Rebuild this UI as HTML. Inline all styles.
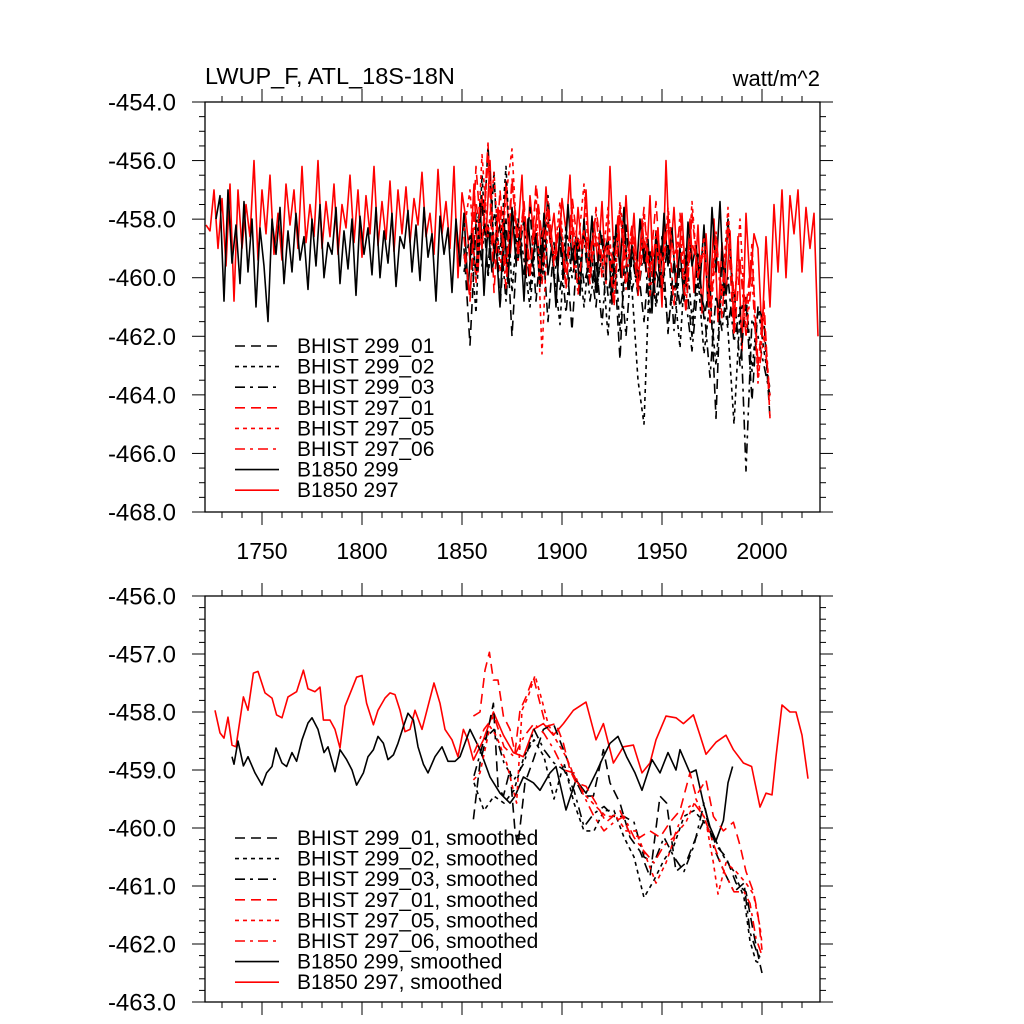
<!DOCTYPE html>
<html><head><meta charset="utf-8"><style>
html,body{margin:0;padding:0;background:#fff;}
svg{display:block;font-family:"Liberation Sans",Arial,sans-serif;}
</style></head><body>
<svg id="chart" width="1024" height="1024" viewBox="0 0 1024 1024"></svg>
<script>
// ===== data =====
const rawB297Start = 1722, rawB297Step = 2;
const rawB297 = [-458.2,-458.4,-457.0,-459.0,-457.3,-459.6,-456.8,-460.8,-457.0,-459.0,
-457.5,-458.6,-456.0,-459.4,-457.0,-458.5,-456.5,-459.2,-457.8,-459.4,
-456.8,-458.2,-457.0,-459.0,-456.2,-458.8,-457.5,-458.6,-456.0,-459.0,
-457.4,-458.6,-456.8,-459.2,-457.5,-458.3,-456.5,-458.8,-457.0,-459.3,
-457.2,-458.5,-456.2,-458.9,-457.4,-458.7,-456.7,-459.1,-457.0,-458.5,
-456.9,-458.8,-457.3,-458.2,-456.4,-458.6,-457.8,-459.2,-456.3,-458.5,
-457.4,-459.0,-456.2,-460.0,-457.1,-458.0,-459.4,-456.8,-459.8,-457.2,
-458.6,-456.0,-459.5,-457.6,-458.9,-456.7,-459.3,-457.9,-458.4,-456.5,
-460.0,-457.2,-458.7,-457.5,-459.6,-456.9,-458.8,-457.8,-459.6,-457.3,
-458.4,-456.5,-459.8,-457.6,-459.1,-457.0,-459.7,-458.1,-459.5,-457.4,
-460.2,-456.2,-459.4,-457.9,-460.0,-457.2,-459.6,-457.8,-460.4,-458.0,
-459.8,-457.2,-460.6,-458.3,-461.0,-456.0,-459.5,-457.6,-459.9,-457.8,
-460.3,-458.0,-460.5,-458.2,-461.2,-458.5,-460.8,-458.0,-461.5,-458.8,
-460.6,-458.4,-461.8,-458.6,-462.5,-457.8,-460.2,-458.5,-459.0,-462.0,
-458.6,-461.0,-457.5,-459.8,-457.0,-460.0,-457.2,-458.5,-457.0,-459.8,
-457.6,-459.0,-457.8,-462.0];
const rawB299Start = 1727, rawB299Step = 2;
const rawB299 = [-458.0,-457.2,-460.8,-457.0,-459.5,-458.2,-460.2,-457.4,-459.8,-458.0,
-461.0,-458.3,-459.6,-461.5,-458.0,-459.2,-457.6,-460.2,-458.4,-459.8,
-457.8,-459.4,-458.6,-460.4,-458.0,-459.6,-457.5,-460.0,-458.8,-459.2,
-457.6,-460.2,-458.4,-459.7,-458.0,-460.6,-457.9,-459.2,-458.3,-459.9,
-457.6,-460.0,-458.4,-459.5,-457.8,-460.3,-458.6,-459.0,-457.7,-459.8,
-458.2,-460.1,-457.6,-459.3,-458.5,-460.8,-457.9,-459.2,-458.3,-460.5,
-458.0,-459.6,-457.8,-460.4,-458.5,-459.9,-457.4,-460.6,-458.2,-459.8,
-458.8,-461.0,-458.0,-460.2,-457.6,-459.5,-458.4,-460.8,-458.0,-459.6,
-458.5,-460.3,-457.8,-459.9,-458.9,-461.0,-458.2,-460.0,-457.5,-459.4,
-458.6,-460.6,-458.0,-459.8,-457.9,-460.5,-458.4,-459.2,-458.6,-460.9,
-458.2,-459.7,-457.6,-460.4,-458.9,-460.0,-458.0,-459.5,-458.7,-461.2,
-458.4,-460.2,-457.8,-459.6,-458.3,-460.4,-459.0,-460.8,-458.1,-459.6,
-458.9,-460.2,-458.2,-461.0,-457.6,-459.8,-457.4,-460.6,-458.0,-460.2];
const rawHistStart = 1851, rawHistStep = 3;
const raw299_01 = [-459.0,-462.3,-458.2,-457.5,-459.8,-456.4,-461.0,-458.0,-462.0,-458.5,
-460.0,-457.6,-460.8,-458.4,-461.5,-458.8,-460.4,-459.0,-461.8,-458.6,
-460.2,-459.4,-461.0,-458.5,-460.6,-459.2,-462.8,-458.2,-460.4,-459.6,
-461.5,-459.0,-460.8,-458.6,-461.9,-459.4,-461.0,-460.0,-462.0,-459.2,
-461.4,-460.2,-464.8,-459.0,-461.6,-460.4,-463.0,-460.8,-464.2,-461.0,-461.5,-464.8];
const raw299_02 = [-459.8,-458.5,-461.2,-456.5,-460.0,-457.8,-459.2,-456.2,-460.5,-458.0,
-459.4,-461.0,-458.6,-460.2,-458.0,-459.8,-461.6,-458.2,-460.0,-459.0,
-461.0,-458.8,-460.5,-459.2,-462.0,-458.6,-461.8,-459.6,-460.4,-463.5,
-465.0,-459.4,-461.0,-459.8,-461.6,-460.2,-462.4,-459.0,-461.4,-460.0,
-462.6,-460.8,-463.0,-460.2,-461.8,-465.0,-461.2,-460.6,-463.2,-461.0,-462.5,-463.8];
const raw299_03 = [-459.2,-460.6,-457.8,-459.6,-455.5,-459.0,-458.2,-460.8,-457.6,-459.4,
-458.0,-460.4,-458.4,-459.8,-457.2,-460.0,-458.8,-461.2,-459.0,-460.2,
-458.6,-460.8,-459.4,-461.6,-458.8,-460.2,-459.6,-462.0,-459.2,-460.6,
-459.0,-461.2,-459.8,-460.4,-458.8,-461.8,-459.6,-460.8,-462.5,-460.2,
-461.0,-463.4,-460.6,-461.8,-460.0,-462.2,-461.0,-466.6,-461.4,-462.0,-463.0,-464.0];
const raw297_01 = [-458.6,-460.8,-456.2,-459.0,-455.4,-460.5,-457.0,-459.8,-456.6,-459.2,
-457.4,-460.0,-456.8,-458.6,-457.6,-459.6,-458.0,-460.4,-457.2,-459.0,
-458.4,-460.2,-457.6,-459.4,-458.8,-461.0,-457.8,-459.6,-458.2,-460.6,
-458.6,-459.8,-457.4,-460.4,-458.0,-459.2,-458.8,-461.2,-457.8,-460.0,
-459.0,-461.4,-458.6,-460.6,-458.4,-462.0,-459.6,-461.0,-459.2,-463.0,-460.8,-464.8];
const raw297_05 = [-458.4,-457.0,-460.2,-455.8,-458.6,-456.4,-459.8,-457.2,-455.6,-459.4,
-457.6,-460.0,-457.0,-462.6,-458.0,-459.4,-457.4,-460.2,-458.2,-459.0,
-456.8,-460.0,-458.6,-459.6,-457.6,-460.8,-457.4,-459.2,-458.6,-460.4,
-457.8,-459.8,-458.8,-460.2,-457.6,-459.4,-458.2,-461.0,-457.4,-460.0,
-458.6,-461.6,-459.0,-460.6,-457.6,-461.2,-458.0,-462.0,-458.8,-463.6,-461.2,-464.2];
const raw297_06 = [-459.2,-460.6,-457.4,-459.0,-456.0,-458.8,-457.6,-460.4,-456.8,-458.6,
-457.8,-459.6,-458.2,-460.2,-457.4,-459.4,-458.0,-459.8,-457.6,-460.6,
-458.4,-459.2,-457.8,-460.0,-458.6,-459.6,-457.6,-460.4,-458.2,-459.8,
-457.6,-460.6,-458.4,-459.4,-458.0,-461.0,-457.8,-460.2,-458.8,-459.6,
-459.2,-460.8,-458.4,-461.4,-458.2,-460.6,-459.4,-462.0,-460.0,-463.4,-462.0,-464.0];

// smoothed
const smB297Years = [1726.5,1729,1731,1733,1735,1737,1740.7,1743,1745.7,1748,1751.5,1755,1757.3,1760,1763,1767.3,1770.7,1773,1776.5,1779,1780.7,1784,1786.5,1789,1791.5,1795,1797.3,1800,1802.3,1805.7,1808,1811.5,1814,1816.5,1819,1821.5,1824,1826.5,1830,1833,1836,1839,1841.5,1845,1848,1850.7,1853,1855.7,1860.7,1865.7,1870.7,1875.7,1880.7,1885.7,1890.7,1895.7,1900.7,1905.7,1912,1917,1920.7,1925.7,1930.7,1935.7,1940,1944,1947,1952,1957,1960.7,1965.7,1969,1972,1977,1982,1985.7,1990.7,1994.8,1999,2002,2005,2007,2010,2014,2017,2020,2023];
const smB297 = [-457.97,-458.36,-458.45,-458.09,-458.57,-458.6,-457.74,-457.97,-457.33,-457.3,-457.67,-457.76,-458.05,-458.1,-457.74,-457.65,-457.28,-457.6,-457.65,-457.57,-458.14,-458.14,-458.3,-458.62,-457.9,-457.6,-457.4,-457.37,-457.85,-458.22,-457.97,-457.76,-457.67,-457.7,-457.97,-458.34,-458.3,-457.97,-458.3,-457.9,-457.5,-457.85,-458.3,-458.48,-458.77,-458.3,-458.48,-458.83,-458.48,-458.0,-458.4,-458.7,-458.77,-458.3,-458.2,-458.4,-458.2,-457.97,-457.83,-458.48,-458.2,-458.88,-458.6,-458.57,-459.05,-458.88,-458.48,-458.07,-458.1,-458.2,-458.05,-458.4,-458.73,-458.52,-458.4,-458.65,-458.88,-458.94,-459.64,-459.4,-459.43,-458.77,-457.88,-458.0,-458.0,-458.4,-459.15];
const smB299Years = [1735,1736,1738,1740.7,1743,1746.5,1750,1752.3,1755,1757,1760,1762.3,1765,1767.3,1770,1773,1775,1778,1781,1783,1786.5,1789,1792.3,1795,1797.3,1800.7,1803,1805.7,1808,1810.7,1813,1815.7,1818,1820.7,1823,1825.7,1828,1830.7,1833,1836.5,1840,1843,1846.5,1849,1854,1859,1864,1869,1874,1876.5,1880.7,1885.7,1889,1894,1897,1902,1907,1912,1917,1920.7,1924,1928,1932.3,1936.5,1940,1945,1949,1953,1957,1959,1964,1967,1970.7,1974,1977,1980.7,1983,1985.3];
const smB299 = [-458.77,-458.9,-458.5,-458.93,-458.77,-459.05,-459.26,-459.05,-458.94,-458.62,-458.88,-458.94,-458.7,-458.85,-458.48,-458.19,-458.1,-458.3,-458.7,-458.6,-459.03,-458.65,-458.82,-459.0,-459.26,-459.05,-458.77,-458.65,-458.42,-458.54,-458.82,-458.74,-458.54,-458.25,-458.02,-458.14,-458.6,-458.9,-459.05,-458.77,-458.6,-458.85,-458.85,-458.77,-458.3,-458.65,-459.12,-459.4,-459.57,-459.45,-459.12,-459.22,-459.35,-459.05,-458.94,-459.69,-459.17,-459.4,-459.05,-458.77,-458.54,-458.42,-458.77,-459.05,-459.35,-458.82,-459.05,-458.7,-459.0,-458.65,-459.05,-459.0,-459.57,-459.98,-460.22,-459.87,-459.22,-458.94];
const sm297_01Years = [1855.7,1859,1861.5,1863.7,1865.7,1868,1870.7,1874,1876.5,1879,1882,1885.7,1889,1892,1897,1900.7,1904,1907,1912,1917,1922,1929,1934,1939,1944,1949,1954,1959,1964,1967,1972,1975.7,1980.7,1985.7,1989,1992,1995.7,1998,2000];
const sm297_01 = [-458.07,-458.0,-457.28,-456.97,-457.45,-457.45,-458.07,-458.3,-458.7,-457.97,-457.74,-457.4,-457.85,-458.25,-458.2,-458.54,-459.0,-459.22,-459.28,-459.57,-459.9,-459.7,-460.1,-460.16,-460.05,-460.16,-459.9,-459.7,-459.05,-459.45,-459.17,-459.8,-460.05,-459.9,-460.3,-460.75,-461.1,-461.5,-462.1];
const sm297_05Years = [1855.7,1859,1864,1867.3,1872.3,1877.3,1880,1883,1886.5,1890,1893,1897,1902,1907,1912,1917,1922,1927,1932,1937,1942,1947,1952,1957,1962,1967,1972,1975.7,1978,1982,1987,1992,1995.7,1999,2000];
const sm297_05 = [-459.17,-459.05,-458.25,-458.42,-458.88,-459.57,-457.97,-457.74,-457.37,-457.8,-458.2,-458.48,-458.77,-459.17,-459.45,-459.63,-459.8,-459.8,-460.05,-460.05,-460.5,-460.95,-460.6,-460.1,-459.9,-459.5,-459.9,-460.6,-461.14,-460.6,-460.75,-460.95,-461.14,-461.7,-462.0];
const sm299_01Years = [1855.7,1859,1862.3,1865.7,1868,1870.7,1874,1876.5,1878,1881.5,1885.7,1890.7,1895.7,1900.7,1905.7,1910.7,1915.7,1920.7,1924,1929,1934,1939,1944,1949,1952.3,1957,1962,1967,1972,1977,1982,1987,1992,1995.7,1999,2000];
const sm299_01 = [-459.85,-458.88,-458.42,-457.85,-459.28,-459.45,-459.0,-460.05,-460.3,-459.22,-458.82,-458.3,-458.2,-458.65,-459.1,-459.45,-459.45,-458.65,-459.22,-459.57,-460.16,-460.4,-460.84,-459.45,-459.57,-460.75,-460.6,-460.16,-459.8,-460.3,-460.5,-460.95,-461.1,-461.8,-462.35,-462.5];
const smCommonYears = [1856,1861,1866,1871,1876,1881,1886,1891,1896,1901,1906,1911,1916,1921,1926,1931,1936,1941,1946,1951,1956,1961,1966,1971,1976,1981,1986,1991,1994,1997,2000];
const sm299_02 = [-459.22,-459.7,-459.45,-459.57,-459.35,-458.77,-458.48,-458.77,-459.5,-458.88,-459.57,-460.05,-460.05,-459.7,-459.7,-460.16,-460.5,-461.2,-460.9,-460.55,-460.3,-459.8,-459.7,-459.9,-460.16,-460.5,-460.75,-461.2,-461.95,-462.3,-462.35];
const sm299_03 = [-459.1,-458.48,-458.3,-458.88,-459.17,-458.88,-458.3,-458.65,-458.88,-459.0,-459.35,-459.98,-459.75,-459.63,-459.8,-459.8,-459.9,-460.5,-460.6,-460.16,-460.5,-460.75,-460.3,-459.57,-460.35,-460.75,-461.1,-460.95,-461.8,-462.1,-462.3];
const sm297_06 = [-458.7,-458.3,-458.07,-458.6,-458.77,-458.42,-458.2,-458.37,-458.65,-459.0,-459.05,-459.45,-459.8,-460.05,-459.9,-459.8,-460.16,-460.4,-460.6,-460.3,-460.16,-459.7,-459.57,-459.8,-460.3,-460.75,-461.1,-461.1,-461.3,-461.9,-462.2];

const xTickYears = [1750,1800,1850,1900,1950,2000];
const topYTicks = [-454,-456,-458,-460,-462,-464,-466,-468];
const botYTicks = [-456,-457,-458,-459,-460,-461,-462,-463];
const topLegendLabels = ["BHIST 299_01","BHIST 299_02","BHIST 299_03","BHIST 297_01","BHIST 297_05","BHIST 297_06","B1850 299","B1850 297"];
const botLegendLabels = ["BHIST 299_01, smoothed","BHIST 299_02, smoothed","BHIST 299_03, smoothed","BHIST 297_01, smoothed","BHIST 297_05, smoothed","BHIST 297_06, smoothed","B1850 299, smoothed","B1850 297, smoothed"];

// ===== drawing =====
const NS = "http://www.w3.org/2000/svg";
const svg = document.getElementById('chart');
const X0 = 205, X1 = 820, YR0 = 1721.5, YR1 = 2029;
function xs(yr){ return X0 + (yr - YR0) / (YR1 - YR0) * (X1 - X0); }
const panels = {
  top: {y0:102, y1:512, vmax:-454, vmin:-468},
  bot: {y0:596, y1:1002, vmax:-456, vmin:-463}
};
function ys(p, v){ return p.y0 + (p.vmax - v) / (p.vmax - p.vmin) * (p.y1 - p.y0); }
function mk(tag, attrs, parent){
  const e = document.createElementNS(NS, tag);
  for (const k in attrs) e.setAttribute(k, attrs[k]);
  (parent || svg).appendChild(e);
  return e;
}
const styles = { d: "10,6", o: "4,4", dd: "10,5,3,5", s: "" };
const series = [
  {c:"#000", s:"d"},{c:"#000", s:"o"},{c:"#000", s:"dd"},
  {c:"#f00", s:"d"},{c:"#f00", s:"o"},{c:"#f00", s:"dd"},
  {c:"#000", s:"s"},{c:"#f00", s:"s"}
];
function drawLine(p, years, vals, st, name, g){
  let d = "";
  for (let i = 0; i < vals.length; i++){
    d += (i ? "L" : "M") + xs(years[i]).toFixed(1) + "," + ys(p, vals[i]).toFixed(1);
  }
  const el = mk('path', {d:d, fill:"none", stroke:st.c, "stroke-width":1.6, "stroke-dasharray":styles[st.s], "stroke-linejoin":"round"}, g);
  
  
}
function yearsFrom(start, step, n){ const a=[]; for(let i=0;i<n;i++) a.push(start+i*step); return a; }

function drawAxes(p, yTicks, minorStep, name, showX){
  const g = mk('g', {});
  
  
  mk('rect', {x:X0, y:p.y0, width:X1-X0, height:p.y1-p.y0, fill:"none", stroke:"#000", "stroke-width":1.3}, g);
  for (let v = p.vmin; v <= p.vmax + 1e-6; v += minorStep){
    const y = ys(p, v);
    const major = yTicks.some(t => Math.abs(t - v) < 1e-6);
    const L = major ? 13 : 6;
    mk('line', {x1:X0-L, y1:y, x2:X0, y2:y, stroke:"#000", "stroke-width":1}, g);
    mk('line', {x1:X1, y1:y, x2:X1+L, y2:y, stroke:"#000", "stroke-width":1}, g);
  }
  yTicks.forEach(t => {
    const tx = mk('text', {x:176, y:ys(p,t)+8.5, "text-anchor":"end", "font-size":24, fill:"#000"}, g);
    tx.textContent = t.toFixed(1);
    
    
  });
  for (let yr = 1730; yr <= 2020; yr += 10){
    const x = xs(yr);
    const major = xTickYears.includes(yr);
    const L = major ? 13 : 6;
    mk('line', {x1:x, y1:p.y0-L, x2:x, y2:p.y0, stroke:"#000", "stroke-width":1}, g);
    mk('line', {x1:x, y1:p.y1, x2:x, y2:p.y1+L, stroke:"#000", "stroke-width":1}, g);
  }
  if (showX){
    xTickYears.forEach(yr => {
      const tx = mk('text', {x:xs(yr), y:p.y1+47, "text-anchor":"middle", "font-size":23, fill:"#000"}, g);
      tx.textContent = yr;
      
      
    });
  }
}
function drawLegend(labels, y0, name){
  const g = mk('g', {});
  
  
  labels.forEach((lab, i) => {
    const y = y0 + i * 20.6;
    const st = series[i];
    mk('line', {x1:235, y1:y, x2:279, y2:y, stroke:st.c, "stroke-width":1.6, "stroke-dasharray":styles[st.s]}, g);
    const tx = mk('text', {x:297, y:y+7, "font-size":21, fill:"#000"}, g);
    tx.textContent = lab;
    
    
  });
}

const t1 = mk('text', {x:205, y:84, "font-size":23.5, fill:"#000"});
t1.textContent = "LWUP_F, ATL_18S-18N";


const t2 = mk('text', {x:820, y:86, "font-size":22, fill:"#000", "text-anchor":"end"});
t2.textContent = "watt/m^2";



const P = panels.top;
const gTop = mk('g', {});


drawLine(P, yearsFrom(rawB297Start, rawB297Step, rawB297.length), rawB297, series[7], 'b1850-297-line', gTop);
drawLine(P, yearsFrom(rawB299Start, rawB299Step, rawB299.length), rawB299, series[6], 'b1850-299-line', gTop);
const hy = yearsFrom(rawHistStart, rawHistStep, raw299_01.length);
drawLine(P, hy, raw299_01, series[0], 'bhist-299-01-line', gTop);
drawLine(P, hy, raw299_02, series[1], 'bhist-299-02-line', gTop);
drawLine(P, hy, raw299_03, series[2], 'bhist-299-03-line', gTop);
drawLine(P, hy, raw297_01, series[3], 'bhist-297-01-line', gTop);
drawLine(P, hy, raw297_05, series[4], 'bhist-297-05-line', gTop);
drawLine(P, hy, raw297_06, series[5], 'bhist-297-06-line', gTop);
drawAxes(P, topYTicks, 0.5, 'top-panel', true);
drawLegend(topLegendLabels, 346, 'top-legend');

const B = panels.bot;
const gBot = mk('g', {});


drawLine(B, smB297Years, smB297, series[7], 'b1850-297-smoothed-line', gBot);
drawLine(B, smB299Years, smB299, series[6], 'b1850-299-smoothed-line', gBot);
drawLine(B, sm299_01Years, sm299_01, series[0], 'bhist-299-01-smoothed-line', gBot);
drawLine(B, smCommonYears, sm299_02, series[1], 'bhist-299-02-smoothed-line', gBot);
drawLine(B, smCommonYears, sm299_03, series[2], 'bhist-299-03-smoothed-line', gBot);
drawLine(B, sm297_01Years, sm297_01, series[3], 'bhist-297-01-smoothed-line', gBot);
drawLine(B, sm297_05Years, sm297_05, series[4], 'bhist-297-05-smoothed-line', gBot);
drawLine(B, smCommonYears, sm297_06, series[5], 'bhist-297-06-smoothed-line', gBot);
drawAxes(B, botYTicks, 0.2, 'bottom-panel', false);
drawLegend(botLegendLabels, 838, 'bottom-legend');
</script>
</body></html>
